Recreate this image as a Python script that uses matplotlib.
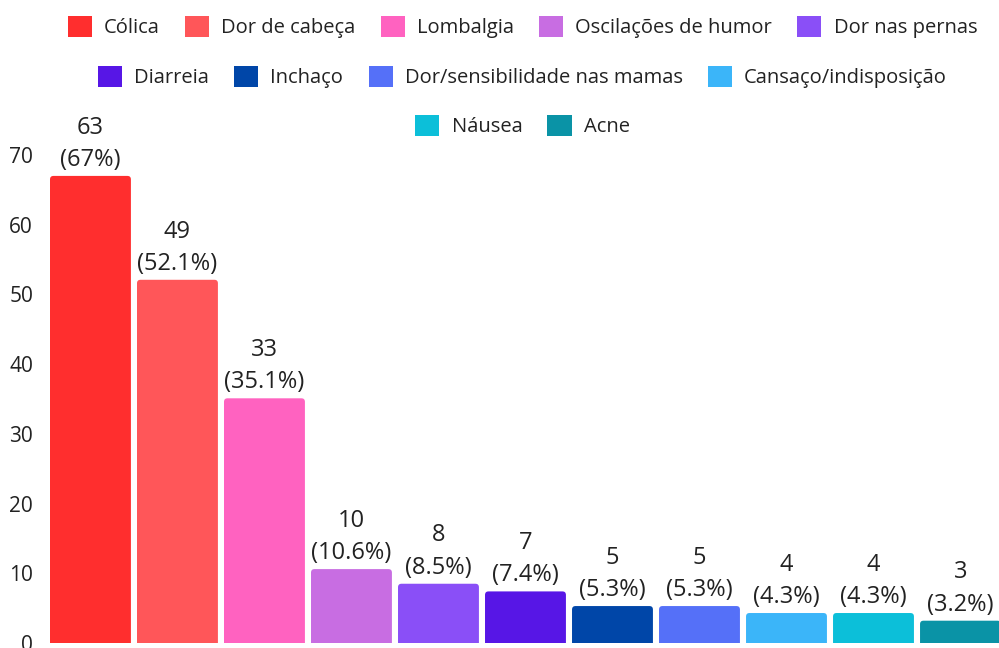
import matplotlib
matplotlib.use("Agg")
import matplotlib.pyplot as plt
from matplotlib.patches import Patch, FancyBboxPatch

plt.rcParams['font.family'] = ['Open Sans', 'DejaVu Sans']

# dados
sintomas = ['Cólica', 'Dor de cabeça', 'Lombalgia', 'Oscilações de humor', 'Dor nas pernas',
            'Diarreia', 'Inchaço', 'Dor/sensibilidade nas mamas', 'Cansaço/indisposição',
            'Náusea', 'Acne']
contagem = [63, 49, 33, 10, 8, 7, 5, 5, 4, 4, 3]
percentual = [67, 52.1, 35.1, 10.6, 8.5, 7.4, 5.3, 5.3, 4.3, 4.3, 3.2]
cores = ['#FF2E2E', '#FF5659', '#FF62C0', '#C86DE2', '#8A4FF7', '#5716E6',
         '#0046A8', '#5570F8', '#3BB5F9', '#0CBFD9', '#0A93A6']

fig = plt.figure(figsize=(9.99, 6.48), dpi=100)
ax = fig.add_axes([0.047, 5 / 648, 0.958, 1 - 155 / 648 - 5 / 648])
ax.set_xlim(-0.5, 10.5)
ax.set_ylim(0, 70)

x = list(range(len(sintomas)))
bars = ax.bar(x, percentual, width=0.93, color=cores)

# cantos arredondados no topo das barras
asp = (70 / ax.bbox.height) / (11 / ax.bbox.width)
for b in bars:
    b.set_visible(False)
    r = FancyBboxPatch((b.get_x(), -2), b.get_width(), b.get_height() + 2,
                       boxstyle='round,pad=0,rounding_size=0.04', mutation_aspect=asp,
                       facecolor=b.get_facecolor(), edgecolor='none')
    ax.add_patch(r)

for b, n, p in zip(bars, contagem, percentual):
    lbl = '%d\n(%s%%)' % (n, ('%g' % p))
    ax.annotate(lbl, (b.get_x() + b.get_width() / 2, b.get_height()),
                xytext=(0, 3), textcoords='offset points', ha='center', va='bottom',
                fontsize=17, color='#222222', linespacing=1.45, annotation_clip=False)

ax.set_yticks([0, 10, 20, 30, 40, 50, 60, 70])
ax.tick_params(axis='y', length=0, pad=10, labelsize=15, labelcolor='#222222')
ax.set_xticks([])
for s in ax.spines.values():
    s.set_visible(False)

# legenda em tres linhas centradas
handles = [Patch(facecolor=c, label=s) for c, s in zip(cores, sintomas)]
linhas = [(handles[0:5], 1 - 27 / 648), (handles[5:9], 1 - 77 / 648), (handles[9:11], 1 - 126 / 648)]
for hs, yy in linhas:
    fig.legend(handles=hs, loc='center', bbox_to_anchor=(0.523, yy), ncol=len(hs),
               frameon=False, fontsize=14.5, handlelength=1.2, handleheight=1.2,
               handletextpad=0.6, columnspacing=1.25, borderpad=0, labelcolor='#222222')

fig.savefig('out.png', dpi=100)
